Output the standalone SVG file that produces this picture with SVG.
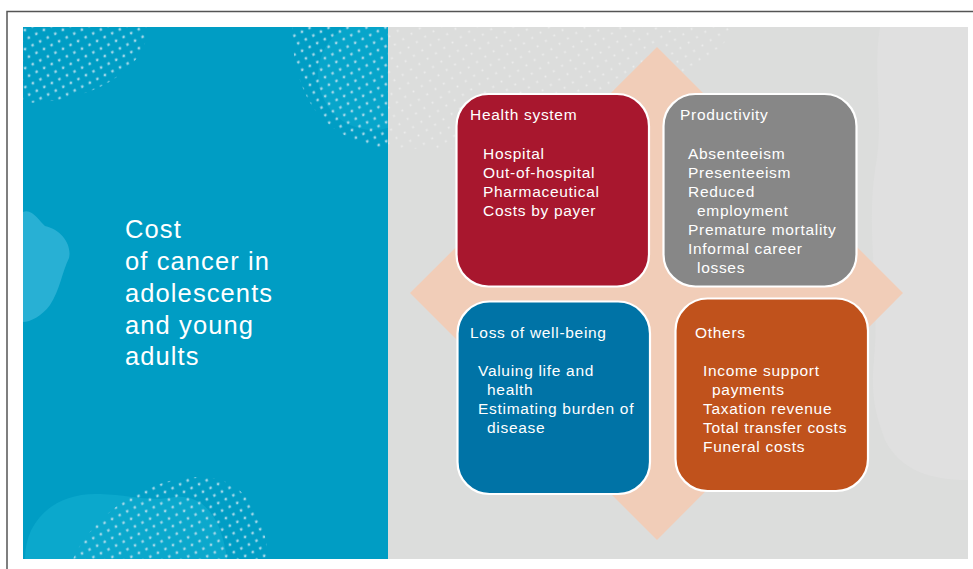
<svg xmlns="http://www.w3.org/2000/svg" width="973" height="569" viewBox="0 0 973 569">
<defs>
<style>
.t{font-family:"Liberation Sans",Arial,sans-serif;fill:#ffffff;font-size:15.5px;letter-spacing:0.7px}
.title{font-family:"Liberation Sans",Arial,sans-serif;fill:#ffffff;font-size:25.5px;letter-spacing:1.1px}
.box{stroke:#ffffff;stroke-width:2.2}
</style>
<pattern id="dotsB" width="12" height="12" patternUnits="userSpaceOnUse" patternTransform="rotate(18)">
<circle cx="3" cy="3" r="1.4" fill="#9fd6e8"/>
<circle cx="9" cy="9" r="1.4" fill="#9fd6e8"/>
</pattern>
<pattern id="dotsG" width="14" height="14" patternUnits="userSpaceOnUse" patternTransform="rotate(12)">
<circle cx="3.5" cy="3.5" r="1" fill="#f2f2f2"/>
<circle cx="10.5" cy="10.5" r="1" fill="#f2f2f2"/>
</pattern>
<clipPath id="clipBlue"><rect x="23" y="27" width="365" height="532"/></clipPath>
<clipPath id="clipGray"><rect x="388" y="27" width="580" height="532"/></clipPath>
</defs>

<!-- frame -->
<path d="M7 569 V11.5 H973" fill="none" stroke="#555555" stroke-width="1.5"/>

<!-- background panels -->
<g id="background">
<rect x="388" y="27" width="580" height="532" fill="#dcdddc"/>
<g clip-path="url(#clipGray)">
<path d="M880 27 C 872 80, 885 120, 875 170 C 866 230, 880 300, 874 360 C 870 400, 878 420, 885 440 C 900 470, 930 480, 968 480 V27 Z" fill="#e0e0e0"/>
<path d="M388 27 H735 C 720 60, 640 110, 560 135 C 500 150, 440 150, 388 148 Z" fill="url(#dotsG)" opacity="0.8"/>
</g>
<rect x="23" y="27" width="365" height="532" fill="#009dc4"/>
<g clip-path="url(#clipBlue)">
<circle cx="373" cy="75" r="55" fill="#07a5ca"/>
<path d="M23 212 C 32 208, 40 222, 45 226 C 62 230, 72 245, 69 258 C 62 272, 60 290, 50 305 C 42 316, 30 322, 23 322 Z" fill="#28b0d4"/>
<path d="M25 559 C 25 520, 55 492, 100 494 C 130 495, 150 502, 175 497 C 205 494, 222 520, 227 559 Z" fill="#0ba8cc"/>
<ellipse cx="23" cy="27" rx="125" ry="76" fill="url(#dotsB)"/>
<path d="M292 27 H388 V148 C 360 148, 330 130, 315 110 C 300 90, 292 60, 292 27 Z" fill="url(#dotsB)"/>
<path d="M73 559 C 90 520, 140 478, 200 477 C 240 476, 266 510, 268 559 Z" fill="url(#dotsB)"/>
</g>
</g>

<!-- diamond -->
<polygon id="diamond" points="657,47 903,293 657,540 410,293" fill="#f1cdb8"/>

<!-- title -->
<g id="title">
<text class="title" x="125" y="238">Cost</text>
<text class="title" x="125" y="270">of cancer in</text>
<text class="title" x="125" y="302">adolescents</text>
<text class="title" x="125" y="334">and young</text>
<text class="title" x="125" y="365">adults</text>
</g>

<g id="connectors"></g>

<g id="health-system">
<rect class="box" x="456.5" y="94" width="192.5" height="192.5" rx="32" fill="#a8172e"/>
<text class="t" x="470" y="120">Health system</text>
<text class="t" x="483" y="159">Hospital</text>
<text class="t" x="483" y="178">Out-of-hospital</text>
<text class="t" x="483" y="197">Pharmaceutical</text>
<text class="t" x="483" y="216">Costs by payer</text>
</g>

<g id="productivity">
<rect class="box" x="663.5" y="94" width="193" height="192.5" rx="32" fill="#878787"/>
<text class="t" x="680" y="120">Productivity</text>
<text class="t" x="688" y="159">Absenteeism</text>
<text class="t" x="688" y="178">Presenteeism</text>
<text class="t" x="688" y="197">Reduced</text>
<text class="t" x="697" y="216">employment</text>
<text class="t" x="688" y="235">Premature mortality</text>
<text class="t" x="688" y="254">Informal career</text>
<text class="t" x="697" y="273">losses</text>
</g>

<g id="loss-of-well-being">
<rect class="box" x="457.5" y="301.5" width="192.5" height="192.5" rx="32" fill="#0073a6"/>
<text class="t" x="470" y="338">Loss of well-being</text>
<text class="t" x="478" y="376">Valuing life and</text>
<text class="t" x="487" y="395">health</text>
<text class="t" x="478" y="414">Estimating burden of</text>
<text class="t" x="487" y="433">disease</text>
</g>

<g id="others">
<rect class="box" x="675.5" y="298.5" width="192.5" height="192.5" rx="32" fill="#c0521c"/>
<text class="t" x="695" y="338">Others</text>
<text class="t" x="703" y="376">Income support</text>
<text class="t" x="712" y="395">payments</text>
<text class="t" x="703" y="414">Taxation revenue</text>
<text class="t" x="703" y="433">Total transfer costs</text>
<text class="t" x="703" y="452">Funeral costs</text>
</g>
</svg>
